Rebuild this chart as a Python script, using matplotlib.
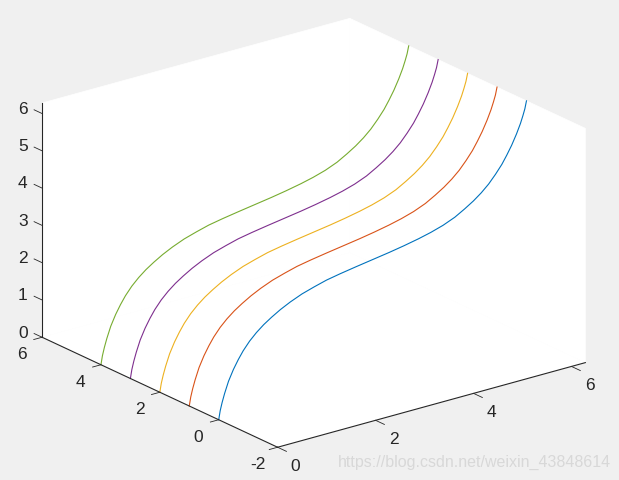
import matplotlib
import matplotlib.pyplot as plt
from mpl_toolkits.mplot3d import proj3d
from mpl_toolkits.mplot3d.art3d import Poly3DCollection

matplotlib.use('Agg')
plt.rcParams['font.family'] = ['Liberation Sans', 'DejaVu Sans']

# one curve, repeated at each y
curve_x = [0, 0.03, 0.07, 0.12, 0.2, 0.3, 0.4, 0.5, 0.63, 0.77, 0.92, 1.08, 1.26, 1.46, 1.7, 1.95, 2.2, 2.48,
           2.8, 3.14, 3.48, 3.78, 4.08, 4.33, 4.58, 4.82, 5.02, 5.2, 5.36, 5.51, 5.65, 5.78, 5.88, 5.98, 6.08,
           6.16, 6.21, 6.25, 6.283]
curve_z = [0, 0.23, 0.44, 0.66, 0.96, 1.24, 1.47, 1.67, 1.88, 2.06, 2.22, 2.36, 2.5, 2.63, 2.76, 2.86, 2.95, 3.02,
           3.09, 3.16, 3.23, 3.3, 3.38, 3.46, 3.56, 3.69, 3.84, 3.99, 4.15, 4.33, 4.54, 4.76, 4.97, 5.2, 5.47,
           5.72, 5.91, 6.08, 6.283]
line_y = [0, 1, 2, 3, 4]
line_colors = ['#0072BD', '#D95319', '#EDB120', '#7E2F8E', '#77AC30']

x_lim = (0, 6.283)
y_lim = (-2, 6)
z_lim = (0, 6.283)
x_ticks = [0, 2, 4, 6]
y_ticks = [-2, 0, 2, 4, 6]
z_ticks = [0, 1, 2, 3, 4, 5, 6]

axis_color = '#262626'
text_color = '#262626'

fig = plt.figure(figsize=(6.19, 4.81), dpi=100, facecolor='#f0f0f0')
ax = fig.add_axes([13.3 / 619, -53.2 / 481, 585 / 619, 585 / 481], projection='3d')
ax.set_proj_type('ortho')
ax.view_init(elev=21, azim=-127.5)
ax.set_box_aspect((388, 387, 251))
ax.set_axis_off()
ax.patch.set_visible(False)
ax.computed_zorder = False

ax.set_xlim(x_lim, view_margin=0)
ax.set_ylim(y_lim, view_margin=0)
ax.set_zlim(z_lim, view_margin=0)

x0, x1 = x_lim
y0, y1 = y_lim
z0, z1 = z_lim


def label(x, y, z, s):
    # place tick text through the 3d projection, drawn as plain 2d text
    u, v, _ = proj3d.proj_transform(x, y, z, ax.get_proj())
    ax.text2D(u, v, s, transform=ax.transData, color=text_color, fontsize=12.5, ha='center', va='center')


# white box: floor and two back walls
faces = [
    [(x0, y0, z0), (x1, y0, z0), (x1, y1, z0), (x0, y1, z0)],
    [(x0, y1, z0), (x1, y1, z0), (x1, y1, z1), (x0, y1, z1)],
    [(x1, y0, z0), (x1, y1, z0), (x1, y1, z1), (x1, y0, z1)],
]
ax.add_collection3d(Poly3DCollection(faces, facecolor='white', edgecolor='white', linewidth=0.5, zorder=1))

for y, color in zip(line_y, line_colors):
    ax.plot(curve_x, [y] * len(curve_x), curve_z, color=color, lw=0.8, zorder=3)

# axis lines
ax.plot([x0, x1], [y0, y0], [z0, z0], color=axis_color, lw=0.8, zorder=4)
ax.plot([x0, x0], [y0, y1], [z0, z0], color=axis_color, lw=0.8, zorder=4)
ax.plot([x0, x0], [y1, y1], [z0, z1], color=axis_color, lw=0.8, zorder=4)

# ticks and labels
for t in x_ticks:
    ax.plot([t, t], [y0, y0 - 0.3], [z0, z0], color=axis_color, lw=0.6, zorder=4)
    label(t, y0 - 0.61, z0 - 0.27, str(t))
for t in y_ticks:
    ax.plot([x0, x0 - 0.17], [t, t], [z0, z0], color=axis_color, lw=0.6, zorder=4)
    label(x0 - 0.41, t, z0 - 0.29, str(t))
for t in z_ticks:
    ax.plot([x0, x0], [y1, y1 + 0.27], [t, t], color=axis_color, lw=0.6, zorder=4)
    label(x0, y1 + 0.65, t - 0.1, str(t))

ax.set_xlim(x_lim, view_margin=0)
ax.set_ylim(y_lim, view_margin=0)
ax.set_zlim(z_lim, view_margin=0)

fig.text(474 / 619, 1 - 462 / 481, 'https://blog.csdn.net/weixin_43848614', color='#d8d8d8', fontsize=11.5,
         ha='center', va='center')

fig.savefig('out.png', dpi=100, facecolor=fig.get_facecolor())
